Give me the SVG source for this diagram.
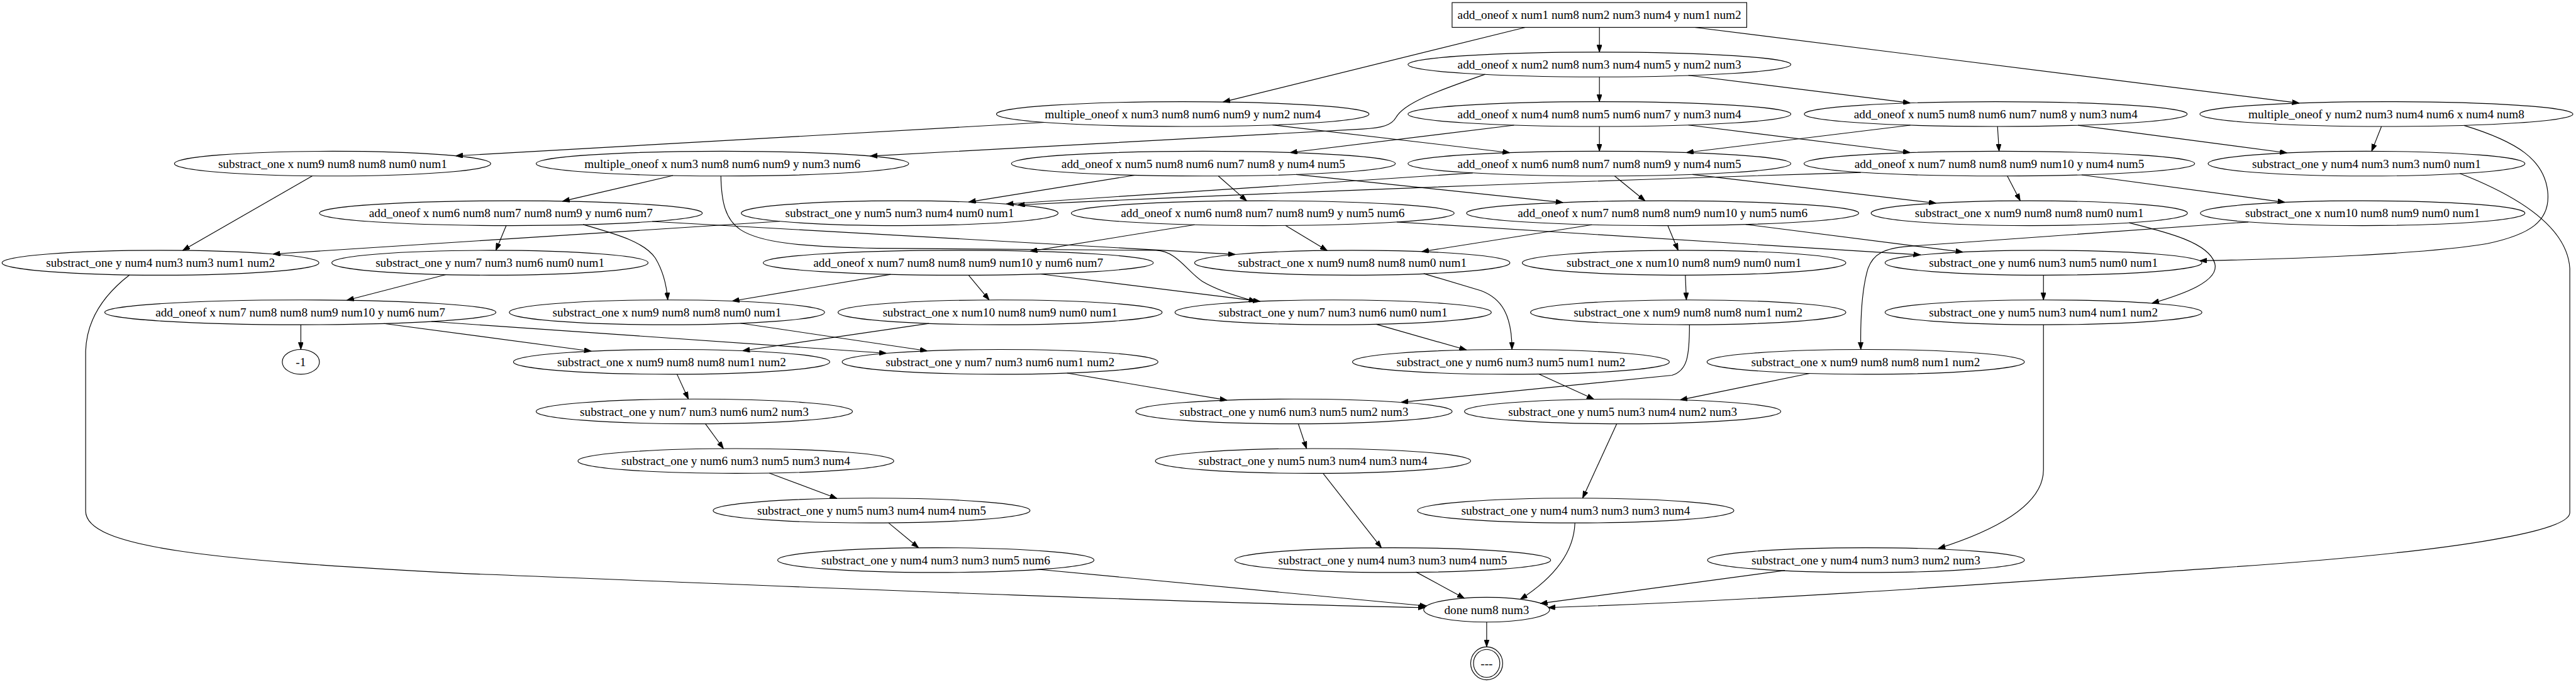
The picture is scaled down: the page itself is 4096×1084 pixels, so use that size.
<svg xmlns="http://www.w3.org/2000/svg" width="4096" height="1084" viewBox="0 0 4096 1084">
<style>
.n ellipse,.n rect{fill:none;stroke:#000;stroke-width:1.4}
.n text{font-family:"Liberation Serif","Times New Roman",serif;font-size:23.5px;text-anchor:middle;fill:#000}
.e path{fill:none;stroke:#000;stroke-width:1.4;marker-end:url(#a)}
</style>
<defs>
<marker id="a" viewBox="0 0 14 10" refX="14" refY="5" markerWidth="14" markerHeight="10" markerUnits="userSpaceOnUse" orient="auto">
<path d="M0,0 L14,5 L0,10 z" fill="#000" stroke="#000" stroke-width="1"/>
</marker>
</defs>
<rect width="4096" height="1084" fill="#fff"/>
<g transform="scale(0.820513)">
<g class="e" id="edges">
<path d="M3099.5,53 L3099.5,101"/>
<path d="M2956,53 L2370,197.6"/>
<path d="M3284,53 L4456,199.8"/>
<path d="M3099.5,149 L3099.5,197"/>
<path d="M3272,146 L3702,199.5"/>
<path d="M2878,144 C2780,178 2720,200 2705,228 C2697,242 2680,248 2640,250 L1686,302.4"/>
<path d="M2024,237 L883,302"/>
<path d="M2466,242 L2926,295.8"/>
<path d="M3099.5,245 L3099.5,293"/>
<path d="M2934,242.5 L2500,295.6"/>
<path d="M3272,242.2 L3702,295.6"/>
<path d="M3702,242.5 L3268,295.6"/>
<path d="M3871,245 L3874,293"/>
<path d="M4027,242.7 L4432,296.2"/>
<path d="M4615,245 L4596,293"/>
<path d="M4775,243 C4880,275 4930,310 4937,370 C4944,430 4900,455 4820,472 C4700,492 4450,502 4263,505"/>
<path d="M605,341 L354,485.2"/>
<path d="M1304,340 L1090,389.9"/>
<path d="M1397,341 C1398,390 1405,425 1435,445 C1470,468 1540,478 1700,481 L2240,485 C2280,486 2300,525 2330,545 C2360,563 2400,575 2434,584"/>
<path d="M2199,339.4 L1877,391.4"/>
<path d="M2361,341 L2416,389.2"/>
<path d="M2512,338 L3029,392.3"/>
<path d="M2854,335 L1950,395.2"/>
<path d="M3606,334 Q2700,362 1972,397"/>
<path d="M3129,341 L3188,389"/>
<path d="M3280,338 L3752,393.6"/>
<path d="M3890,341 L3915,389"/>
<path d="M4034,338.8 L4428,391.9"/>
<path d="M981,437 L961,485"/>
<path d="M1130,435 C1200,455 1250,470 1270,500 C1285,525 1292,555 1294,581"/>
<path d="M1264,429 L2394,492.9"/>
<path d="M1511,428.7 L529,492.1"/>
<path d="M2315,435.4 L1996,486.7"/>
<path d="M2491,436.6 L2572,485.3"/>
<path d="M2707,430 L3722,493.8"/>
<path d="M3085,435.4 L2755,487.5"/>
<path d="M3232,437 L3252,485"/>
<path d="M3383,434.7 L3804,488.3"/>
<path d="M4126,431.6 C4200,450 4280,470 4292,510 C4302,545 4230,570 4170,587.5"/>
<path d="M4357,430 L3700,477 C3650,481 3630,492 3620,520 C3608,560 3605,620 3606,677"/>
<path d="M251,532.5 C205,568 168,615 166,680 L166,990 C166,1060 400,1085 900,1111 C1500,1135 2300,1168 2762,1177"/>
<path d="M864,532 L672,581.7"/>
<path d="M1726,531.5 L1419,583.2"/>
<path d="M1877,533 L1917,581.1"/>
<path d="M2016,530.8 L2442,583.7"/>
<path d="M2759,530 L2870,563 C2910,578 2930,610 2930,677"/>
<path d="M3266,533 L3268,581"/>
<path d="M3960,533 L3960,581"/>
<path d="M583,629 L583,677"/>
<path d="M744,626.7 L1146,680.3"/>
<path d="M836,622.8 L1718,684.3"/>
<path d="M1435,626.2 L1797,679.7"/>
<path d="M1800,626.6 L1439,679.5"/>
<path d="M2667,628.1 L2842,678"/>
<path d="M3274,629 C3274,690 3270,718 3240,727 L2715,779.3"/>
<path d="M3960,629 L3960,910 C3960,970 3890,1020 3756,1062.6"/>
<path d="M1312,725 L1334,773"/>
<path d="M2068,722.7 L2378,775.3"/>
<path d="M2982,724.6 L3089,773.4"/>
<path d="M3507,723.4 L3256,774.6"/>
<path d="M1367,821 L1402,869"/>
<path d="M2516,821 L2532,869"/>
<path d="M3133,821 L3067,965"/>
<path d="M1491,916.5 L1622,965.6"/>
<path d="M2564,917 L2677,1061"/>
<path d="M1722,1013 L1780,1061"/>
<path d="M3052,1013 C3050,1070 3010,1120 2946,1161"/>
<path d="M2012,1103 L2765,1174"/>
<path d="M2744,1108 L2838,1159"/>
<path d="M3459,1105 L2985,1169"/>
<path d="M4767,336 C4880,380 4975,440 4980,520 L4980,993 C4980,1030 4750,1070 4300,1100 C4000,1120 3500,1160 3000,1177"/>
<path d="M2881,1205 L2881,1253"/>
</g>
<g class="n" id="n0"><rect x="2814" y="5" width="571" height="48"/><text x="3099.5" y="37">add_oneof x num1 num8 num2 num3 num4 y num1 num2</text></g>
<g class="n" id="n1"><ellipse cx="3099.5" cy="125" rx="371" ry="24"/><text x="3099.5" y="133">add_oneof x num2 num8 num3 num4 num5 y num2 num3</text></g>
<g class="n" id="n2"><ellipse cx="2292" cy="221" rx="361" ry="24"/><text x="2292" y="229">multiple_oneof x num3 num8 num6 num9 y num2 num4</text></g>
<g class="n" id="n3"><ellipse cx="3099.5" cy="221" rx="371" ry="24"/><text x="3099.5" y="229">add_oneof x num4 num8 num5 num6 num7 y num3 num4</text></g>
<g class="n" id="n4"><ellipse cx="3867.5" cy="221" rx="371" ry="24"/><text x="3867.5" y="229">add_oneof x num5 num8 num6 num7 num8 y num3 num4</text></g>
<g class="n" id="n5"><ellipse cx="4624.5" cy="221" rx="361.5" ry="24"/><text x="4624.5" y="229">multiple_oneof y num2 num3 num4 num6 x num4 num8</text></g>
<g class="n" id="n6"><ellipse cx="644.5" cy="317" rx="306.5" ry="24"/><text x="644.5" y="325">substract_one x num9 num8 num8 num0 num1</text></g>
<g class="n" id="n7"><ellipse cx="1400" cy="317" rx="361" ry="24"/><text x="1400" y="325">multiple_oneof x num3 num8 num6 num9 y num3 num6</text></g>
<g class="n" id="n8"><ellipse cx="2332" cy="317" rx="372" ry="24"/><text x="2332" y="325">add_oneof x num5 num8 num6 num7 num8 y num4 num5</text></g>
<g class="n" id="n9"><ellipse cx="3099.5" cy="317" rx="371" ry="24"/><text x="3099.5" y="325">add_oneof x num6 num8 num7 num8 num9 y num4 num5</text></g>
<g class="n" id="n10"><ellipse cx="3874.5" cy="317" rx="378.5" ry="24"/><text x="3874.5" y="325">add_oneof x num7 num8 num8 num9 num10 y num4 num5</text></g>
<g class="n" id="n11"><ellipse cx="4586" cy="317" rx="307" ry="24"/><text x="4586" y="325">substract_one y num4 num3 num3 num0 num1</text></g>
<g class="n" id="n12"><ellipse cx="990" cy="413" rx="371" ry="24"/><text x="990" y="421">add_oneof x num6 num8 num7 num8 num9 y num6 num7</text></g>
<g class="n" id="n13"><ellipse cx="1743.5" cy="413" rx="307" ry="24"/><text x="1743.5" y="421">substract_one y num5 num3 num4 num0 num1</text></g>
<g class="n" id="n14"><ellipse cx="2447" cy="413" rx="371" ry="24"/><text x="2447" y="421">add_oneof x num6 num8 num7 num8 num9 y num5 num6</text></g>
<g class="n" id="n15"><ellipse cx="3222" cy="413" rx="380" ry="24"/><text x="3222" y="421">add_oneof x num7 num8 num8 num9 num10 y num5 num6</text></g>
<g class="n" id="n16"><ellipse cx="3932.5" cy="413" rx="306.5" ry="24"/><text x="3932.5" y="421">substract_one x num9 num8 num8 num0 num1</text></g>
<g class="n" id="n17"><ellipse cx="4578.5" cy="413" rx="314.5" ry="24"/><text x="4578.5" y="421">substract_one x num10 num8 num9 num0 num1</text></g>
<g class="n" id="n18"><ellipse cx="311" cy="509" rx="307" ry="24"/><text x="311" y="517">substract_one y num4 num3 num3 num1 num2</text></g>
<g class="n" id="n19"><ellipse cx="949.5" cy="509" rx="306.5" ry="24"/><text x="949.5" y="517">substract_one y num7 num3 num6 num0 num1</text></g>
<g class="n" id="n20"><ellipse cx="1857" cy="509" rx="378" ry="24"/><text x="1857" y="517">add_oneof x num7 num8 num8 num9 num10 y num6 num7</text></g>
<g class="n" id="n21"><ellipse cx="2620.5" cy="509" rx="305.5" ry="24"/><text x="2620.5" y="517">substract_one x num9 num8 num8 num0 num1</text></g>
<g class="n" id="n22"><ellipse cx="3263.5" cy="509" rx="313.5" ry="24"/><text x="3263.5" y="517">substract_one x num10 num8 num9 num0 num1</text></g>
<g class="n" id="n23"><ellipse cx="3960" cy="509" rx="307" ry="24"/><text x="3960" y="517">substract_one y num6 num3 num5 num0 num1</text></g>
<g class="n" id="n24"><ellipse cx="582" cy="605" rx="379" ry="24"/><text x="582" y="613">add_oneof x num7 num8 num8 num9 num10 y num6 num7</text></g>
<g class="n" id="n25"><ellipse cx="1292.5" cy="605" rx="305.5" ry="24"/><text x="1292.5" y="613">substract_one x num9 num8 num8 num0 num1</text></g>
<g class="n" id="n26"><ellipse cx="1938" cy="605" rx="314" ry="24"/><text x="1938" y="613">substract_one x num10 num8 num9 num0 num1</text></g>
<g class="n" id="n27"><ellipse cx="2583.5" cy="605" rx="306.5" ry="24"/><text x="2583.5" y="613">substract_one y num7 num3 num6 num0 num1</text></g>
<g class="n" id="n28"><ellipse cx="3271.5" cy="605" rx="305.5" ry="24"/><text x="3271.5" y="613">substract_one x num9 num8 num8 num1 num2</text></g>
<g class="n" id="n29"><ellipse cx="3960" cy="605" rx="307" ry="24"/><text x="3960" y="613">substract_one y num5 num3 num4 num1 num2</text></g>
<g class="n" id="n30"><ellipse cx="583" cy="701" rx="36" ry="24"/><text x="583" y="709">-1</text></g>
<g class="n" id="n31"><ellipse cx="1301.5" cy="701" rx="306.5" ry="24"/><text x="1301.5" y="709">substract_one x num9 num8 num8 num1 num2</text></g>
<g class="n" id="n32"><ellipse cx="1938" cy="701" rx="306" ry="24"/><text x="1938" y="709">substract_one y num7 num3 num6 num1 num2</text></g>
<g class="n" id="n33"><ellipse cx="2928" cy="701" rx="307" ry="24"/><text x="2928" y="709">substract_one y num6 num3 num5 num1 num2</text></g>
<g class="n" id="n34"><ellipse cx="3615.5" cy="701" rx="307.5" ry="24"/><text x="3615.5" y="709">substract_one x num9 num8 num8 num1 num2</text></g>
<g class="n" id="n35"><ellipse cx="1345.5" cy="797" rx="306.5" ry="24"/><text x="1345.5" y="805">substract_one y num7 num3 num6 num2 num3</text></g>
<g class="n" id="n36"><ellipse cx="2507.5" cy="797" rx="306.5" ry="24"/><text x="2507.5" y="805">substract_one y num6 num3 num5 num2 num3</text></g>
<g class="n" id="n37"><ellipse cx="3144.5" cy="797" rx="306.5" ry="24"/><text x="3144.5" y="805">substract_one y num5 num3 num4 num2 num3</text></g>
<g class="n" id="n38"><ellipse cx="1426" cy="893" rx="306" ry="24"/><text x="1426" y="901">substract_one y num6 num3 num5 num3 num4</text></g>
<g class="n" id="n39"><ellipse cx="2544.5" cy="893" rx="305.5" ry="24"/><text x="2544.5" y="901">substract_one y num5 num3 num4 num3 num4</text></g>
<g class="n" id="n40"><ellipse cx="1689" cy="989" rx="307" ry="24"/><text x="1689" y="997">substract_one y num5 num3 num4 num4 num5</text></g>
<g class="n" id="n41"><ellipse cx="3053.5" cy="989" rx="306.5" ry="24"/><text x="3053.5" y="997">substract_one y num4 num3 num3 num3 num4</text></g>
<g class="n" id="n42"><ellipse cx="1813.5" cy="1085" rx="306.5" ry="24"/><text x="1813.5" y="1093">substract_one y num4 num3 num3 num5 num6</text></g>
<g class="n" id="n43"><ellipse cx="2699" cy="1085" rx="306" ry="24"/><text x="2699" y="1093">substract_one y num4 num3 num3 num4 num5</text></g>
<g class="n" id="n44"><ellipse cx="3616" cy="1085" rx="307" ry="24"/><text x="3616" y="1093">substract_one y num4 num3 num3 num2 num3</text></g>
<g class="n" id="n45"><ellipse cx="2881" cy="1181" rx="122" ry="24"/><text x="2881" y="1189">done num8 num3</text></g>
<g class="n" id="n46"><ellipse cx="2881" cy="1285" rx="31" ry="32"/><ellipse cx="2881" cy="1285" rx="25.5" ry="27"/><text x="2881" y="1293">---</text></g>
</g>
</svg>
